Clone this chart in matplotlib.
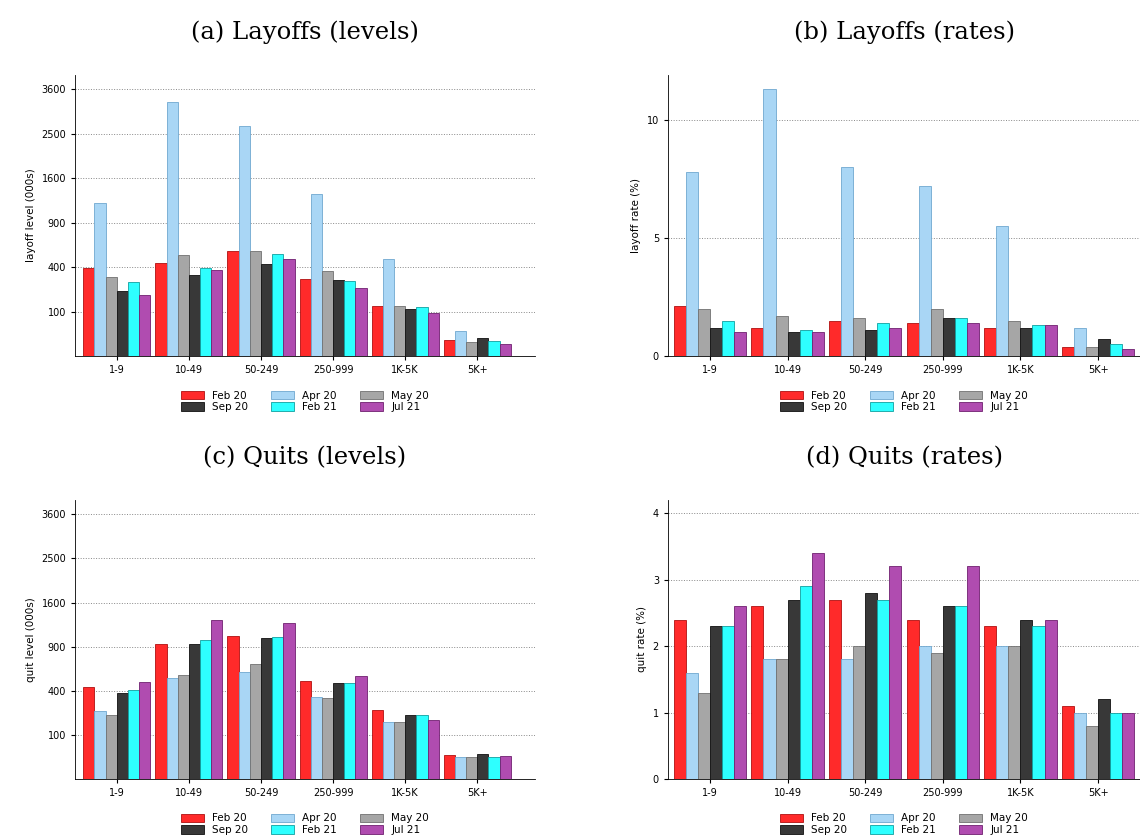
import numpy as np
import matplotlib.pyplot as plt

sizes = ["1-9", "10-49", "50-249", "250-999", "1K-5K", "5K+"]
periods = ["Feb 20", "Apr 20", "May 20", "Sep 20", "Feb 21", "Jul 21"]
colors = ["#ff2a2a", "#a9d6f5", "#a6a6a6", "#383838", "#2effff", "#b04cb0"]
edges = ["#b01010", "#6fa8d0", "#707070", "#101010", "#10a0a0", "#702070"]

# rows = size class, cols = period
layoff_levels = [
    [390, 1180, 315, 213, 276, 188],
    [437, 3260, 515, 331, 391, 373],
    [557, 2670, 557, 427, 525, 475],
    [299, 1325, 365, 292, 284, 234],
    [126, 475, 126, 112, 121, 93],
    [13, 32, 10, 16, 11, 7],
]
layoff_rates = [
    [2.1, 7.8, 2.0, 1.2, 1.5, 1.0],
    [1.2, 11.3, 1.7, 1.0, 1.1, 1.0],
    [1.5, 8.0, 1.6, 1.1, 1.4, 1.2],
    [1.4, 7.2, 2.0, 1.6, 1.6, 1.4],
    [1.2, 5.5, 1.5, 1.2, 1.3, 1.3],
    [0.4, 1.2, 0.4, 0.7, 0.5, 0.3],
]
quit_levels = [
    [437, 240, 213, 384, 408, 484],
    [935, 525, 557, 935, 990, 1295],
    [1048, 588, 680, 1018, 1033, 1245],
    [495, 345, 338, 476, 476, 546],
    [247, 169, 169, 213, 213, 177],
    [29, 24, 24, 31, 24, 27],
]
quit_rates = [
    [2.4, 1.6, 1.3, 2.3, 2.3, 2.6],
    [2.6, 1.8, 1.8, 2.7, 2.9, 3.4],
    [2.7, 1.8, 2.0, 2.8, 2.7, 3.2],
    [2.4, 2.0, 1.9, 2.6, 2.6, 3.2],
    [2.3, 2.0, 2.0, 2.4, 2.3, 2.4],
    [1.1, 1.0, 0.8, 1.2, 1.0, 1.0],
]
level_ticks = [100, 400, 900, 1600, 2500, 3600]

fig = plt.figure(figsize=(11.4, 8.35), dpi=100)
W, H = 1140, 835
boxes = [(75, 75, 535, 356), (668, 75, 1140, 356), (75, 500, 535, 779), (668, 500, 1140, 779)]
titles = ["(a) Layoffs (levels)", "(b) Layoffs (rates)", "(c) Quits (levels)", "(d) Quits (rates)"]
datas = [layoff_levels, layoff_rates, quit_levels, quit_rates]
ylabels = ["layoff level (000s)", "layoff rate (%)", "quit level (000s)", "quit rate (%)"]

def fwd(v):
    return np.sqrt(np.clip(v, 0, None))

def inv(v):
    return np.asarray(v) ** 2

x = np.arange(len(sizes))
bw = 0.155
for k in range(4):
    x0, y0, x1, y1 = boxes[k]
    ax = fig.add_axes([x0 / W, 1 - y1 / H, (x1 - x0) / W, (y1 - y0) / H])
    d = np.array(datas[k])
    handles = []
    for j in range(len(periods)):
        h = ax.bar(x + (j - 2.5) * bw, d[:, j], bw, color=colors[j], edgecolor=edges[j],
                   linewidth=0.6, label=periods[j], zorder=3)
        handles.append(h)
    if k in (0, 2):
        ax.set_yscale("function", functions=(fwd, inv))
        ax.set_ylim(0, 3990 if k == 0 else 4000)
        ax.set_yticks(level_ticks)
        ax.set_yticklabels([str(t) for t in level_ticks])
        ax.set_xlim(-0.58, 5.8)
    else:
        if k == 1:
            ax.set_ylim(0, 11.9)
            ax.set_yticks([0, 5, 10])
        else:
            ax.set_ylim(0, 4.2)
            ax.set_yticks([0, 1, 2, 3, 4])
        ax.set_xlim(-0.54, 5.54)
    ax.set_xticks(x)
    ax.set_xticklabels(sizes)
    ax.tick_params(labelsize=7, length=3)
    ax.set_ylabel(ylabels[k], fontsize=7.5)
    ax.grid(axis="y", linestyle=":", color="#888888", linewidth=0.7, zorder=0)
    for s in ("top", "right"):
        ax.spines[s].set_visible(False)
    ax.spines["left"].set_linewidth(0.6)
    ax.spines["bottom"].set_linewidth(0.6)
    ax.set_title(titles[k], fontsize=17.5, family="serif", pad=26)
    order = [0, 3, 1, 4, 2, 5]
    ax.legend([handles[i] for i in order], [periods[i] for i in order], ncol=3,
              loc="upper center", bbox_to_anchor=(0.5, -0.09), frameon=False,
              fontsize=7.5, handlelength=2.2, handleheight=0.9, columnspacing=2.2,
              labelspacing=0.15)

fig.savefig("out.png", dpi=100)
